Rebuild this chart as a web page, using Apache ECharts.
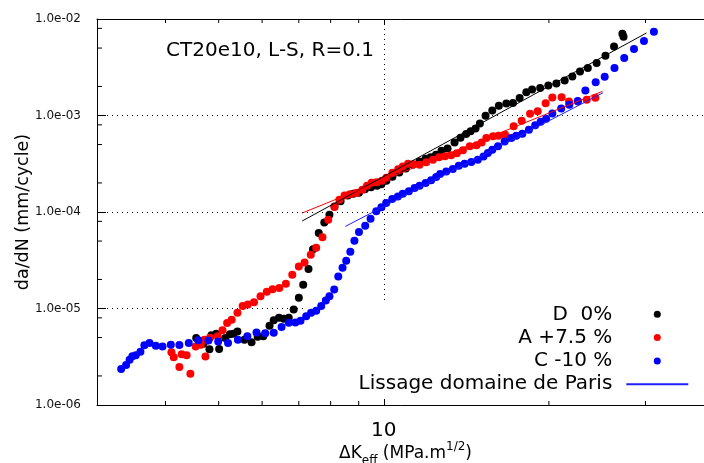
<!DOCTYPE html>
<html>
<head>
<meta charset="utf-8">
<script src="https://cdn.jsdelivr.net/npm/echarts@6/dist/echarts.min.js"></script>
<style>
html,body{margin:0;padding:0;background:#fff;}
#chart{width:704px;height:463px;}
</style>
</head>
<body>
<div id="chart"></div>
<script>
// ---- Data (ΔKeff in MPa.m^1/2, da/dN in mm/cycle) ----
const dK_D = [4.55,4.69,4.81,4.85,4.95,5.01,5.14,5.24,5.32,5.41,
  5.57,5.74,5.89,6.03,6.19,6.30,6.44,6.57,6.71,6.85,
  7.00,7.13,7.29,7.43,7.61,7.79,7.96,8.13,8.34,8.60,
  8.80,9.01,9.24,9.48,9.72,9.90,10.11,10.37,10.67,10.97,
  11.30,11.62,11.92,12.17,12.45,12.74,13.07,13.46,13.80,14.13,
  14.40,14.70,14.97,15.33,15.77,16.21,16.73,17.20,17.69,18.19,
  18.64,19.28,19.95,20.64,21.37,22.07,22.79,23.55,24.44,25.36,
  26.29,27.23,27.36];
const dadN_D = [4.95e-6,4.32e-6,3.79e-6,5.29e-6,5.48e-6,3.80e-6,4.95e-6,5.42e-6,5.48e-6,5.79e-6,
  4.75e-6,4.48e-6,5.10e-6,5.16e-6,6.64e-6,7.57e-6,8.03e-6,7.84e-6,8.03e-6,9.76e-6,
  1.29e-5,1.76e-5,2.57e-5,4.10e-5,6.06e-5,7.80e-5,9.38e-5,1.14e-4,1.29e-4,1.48e-4,
  1.55e-4,1.58e-4,1.72e-4,1.81e-4,1.87e-4,1.94e-4,2.11e-4,2.32e-4,2.57e-4,2.83e-4,
  3.09e-4,3.34e-4,3.57e-4,3.70e-4,3.93e-4,4.32e-4,4.55e-4,5.25e-4,5.89e-4,6.45e-4,
  6.88e-4,7.33e-4,8.28e-4,9.95e-4,1.13e-3,1.26e-3,1.33e-3,1.35e-3,1.52e-3,1.74e-3,
  1.86e-3,1.93e-3,2.04e-3,2.15e-3,2.31e-3,2.54e-3,2.86e-3,3.11e-3,3.50e-3,4.17e-3,
  5.20e-3,7.04e-3,6.56e-3];

const dK_A = [4.10,4.14,4.24,4.28,4.37,4.44,4.54,4.64,4.71,4.73,
  4.82,4.98,5.08,5.18,5.28,5.41,5.53,5.65,5.80,5.96,
  6.12,6.27,6.45,6.63,6.81,7.00,7.17,7.36,7.53,7.73,
  7.92,8.13,8.30,8.48,8.68,8.90,9.14,9.32,9.50,9.70,
  9.92,10.11,10.37,10.62,10.83,11.07,11.33,11.62,11.95,12.29,
  12.61,12.93,13.27,13.59,13.94,14.35,14.76,15.08,15.38,15.82,
  16.19,16.64,17.25,17.84,18.48,19.08,19.73,20.29,21.10,21.76,
  22.60,23.44,24.31];
const dadN_A = [3.53e-6,3.13e-6,2.48e-6,3.36e-6,3.28e-6,2.11e-6,4.05e-6,4.22e-6,4.75e-6,3.19e-6,
  4.98e-6,5.16e-6,5.96e-6,7.08e-6,7.65e-6,9.05e-6,1.06e-5,1.10e-5,1.16e-5,1.34e-5,
  1.49e-5,1.58e-5,1.63e-5,1.81e-5,2.24e-5,2.73e-5,3.00e-5,3.61e-5,4.27e-5,5.48e-5,
  8.32e-5,1.13e-4,1.34e-4,1.48e-4,1.53e-4,1.57e-4,1.70e-4,1.87e-4,2.01e-4,2.03e-4,
  2.11e-4,2.27e-4,2.55e-4,2.78e-4,2.97e-4,3.17e-4,3.13e-4,3.09e-4,3.28e-4,3.48e-4,
  3.70e-4,3.79e-4,3.88e-4,4.07e-4,4.37e-4,4.79e-4,4.92e-4,5.26e-4,5.85e-4,6.10e-4,
  6.18e-4,6.32e-4,7.75e-4,8.83e-4,1.04e-3,1.11e-3,1.34e-3,1.54e-3,1.55e-3,1.40e-3,
  1.40e-3,1.46e-3,1.53e-3];

const dK_C = [3.32,3.39,3.44,3.48,3.53,3.60,3.66,3.74,3.84,3.95,
  4.09,4.24,4.41,4.59,4.79,4.99,5.20,5.42,5.64,5.86,
  6.08,6.30,6.51,6.71,6.90,7.05,7.22,7.37,7.53,7.69,
  7.84,7.96,8.12,8.26,8.41,8.54,8.69,8.84,9.01,9.25,
  9.46,9.69,9.90,10.10,10.36,10.61,10.83,11.11,11.38,11.62,
  11.92,12.20,12.46,12.67,13.00,13.36,13.70,14.04,14.44,14.84,
  15.20,15.48,15.77,16.15,16.61,17.08,17.44,17.89,18.39,18.88,
  19.32,19.77,20.29,21.06,21.79,22.57,23.31,24.34,25.28,26.34,
  27.44,28.59,29.81,31.08];
const dadN_C = [2.36e-6,2.59e-6,2.95e-6,3.20e-6,3.28e-6,3.57e-6,4.17e-6,4.39e-6,4.12e-6,4.05e-6,
  4.22e-6,4.19e-6,4.39e-6,4.69e-6,4.67e-6,4.56e-6,4.39e-6,4.75e-6,5.16e-6,5.65e-6,
  5.55e-6,5.59e-6,6.43e-6,7.13e-6,7.18e-6,7.48e-6,8.32e-6,9.05e-6,9.49e-6,1.06e-5,
  1.21e-5,1.34e-5,1.57e-5,2.14e-5,2.65e-5,3.13e-5,3.88e-5,5.04e-5,6.21e-5,7.21e-5,
  8.52e-5,1.02e-4,1.12e-4,1.24e-4,1.36e-4,1.45e-4,1.55e-4,1.64e-4,1.77e-4,1.87e-4,
  2.00e-4,2.13e-4,2.31e-4,2.48e-4,2.63e-4,2.79e-4,3.02e-4,3.17e-4,3.30e-4,3.48e-4,
  3.77e-4,4.09e-4,4.42e-4,4.79e-4,5.39e-4,5.85e-4,6.18e-4,6.48e-4,7.13e-4,7.93e-4,
  8.63e-4,9.26e-4,1.05e-3,1.18e-3,1.29e-3,1.41e-3,1.82e-3,2.21e-3,2.52e-3,3.11e-3,
  3.94e-3,4.89e-3,5.92e-3,7.39e-3];

// Paris-regime fits (end points)
const fitK_D = [7.10, 30.12];
const fitV_D = [8.07e-5, 7.16e-3];
const fitK_A = [7.10, 25.04];
const fitV_A = [9.76e-5, 1.78e-3];
const fitK_C = [8.51, 25.10];
const fitV_C = [7.09e-5, 1.72e-3];

// Axes
const xMin = 3, xMax = 40;
const yMin = 1e-6, yMax = 1e-2;
const xMinorTicks = [4,5,6,7,8,9,20,30];
const yMinorTicks = [2e-6,5e-6,8e-6,2e-5,5e-5,8e-5,2e-4,5e-4,8e-4,2e-3,5e-3,8e-3];

const seriesNames = ['D  0%', 'A +7.5 %', 'C -10 %', 'Lissage domaine de Paris'];
const titleText = 'CT20e10, L-S, R=0.1';

// ---- Chart ----
const FONT = 'DejaVu Sans';
const zip = (a, b) => a.map((v, i) => [v, b[i]]);
const chart = echarts.init(document.getElementById('chart'), null, {renderer: 'canvas'});

const dotted = {color: '#000', width: 1, type: [1, 4]};

const option = {
  animation: false,
  backgroundColor: '#fff',
  textStyle: {fontFamily: FONT},
  title: {
    text: titleText, left: 166, top: 41, padding: 0,
    textStyle: {fontFamily: FONT, fontSize: 20, fontWeight: 'normal', color: '#000'}
  },
  grid: {left: 97, top: 19, width: 617, height: 386, show: false,
    containLabel: false, outerBoundsMode: 'none'},
  legend: {
    orient: 'vertical', right: 14.7, top: 302.8, padding: 0,
    itemGap: 0.3, itemWidth: 62, itemHeight: 7, align: 'right',
    selectedMode: false,
    data: [
      seriesNames[0], seriesNames[1], seriesNames[2],
      {name: seriesNames[3], itemStyle: {color: 'rgba(0,0,0,0)', borderWidth: 0}}
    ],
    textStyle: {fontFamily: FONT, fontSize: 20, color: '#000', lineHeight: 23, padding: [0, 9, 0, 0]}
  },
  graphic: [{
    type: 'rect', left: 305, top: 302, z: 1, silent: true,
    shape: {width: 400, height: 93}, style: {fill: '#fff'}
  }],
  xAxis: [{
    type: 'log', logBase: 10, min: xMin, max: xMax, position: 'bottom',
    axisLine: {show: true, lineStyle: {color: '#000', width: 1}},
    axisTick: {show: true, inside: true, length: 6, lineStyle: {color: '#000', width: 1}},
    axisLabel: {
      show: true, fontFamily: FONT, fontSize: 20, color: '#000', margin: 16,
      showMinLabel: false, showMaxLabel: false,
      formatter: v => (Math.abs(v - 10) < 1e-6 ? '10' : '')
    },
    splitLine: {show: true, lineStyle: dotted},
    name: '{a|ΔK}{sub|eff}{a| (MPa.m}{sup|1/2}{a|)}',
    nameLocation: 'middle', nameGap: 36, nameMoveOverlap: false,
    nameTextStyle: {
      fontFamily: FONT, fontSize: 17, color: '#000',
      rich: {
        a: {fontFamily: FONT, fontSize: 17, color: '#000', lineHeight: 26},
        sub: {fontFamily: FONT, fontSize: 12, color: '#000', verticalAlign: 'bottom', lineHeight: 14},
        sup: {fontFamily: FONT, fontSize: 12, color: '#000', verticalAlign: 'top', lineHeight: 17}
      }
    }
  }, {
    type: 'log', logBase: 10, min: xMin, max: xMax, position: 'top',
    axisLine: {show: true, lineStyle: {color: '#000', width: 1}},
    axisTick: {show: true, inside: true, length: 6, lineStyle: {color: '#000', width: 1}},
    axisLabel: {show: false},
    splitLine: {show: false}
  }],
  yAxis: {
    type: 'log', logBase: 10, min: yMin, max: yMax,
    axisLine: {show: true, lineStyle: {color: '#000', width: 1}},
    axisTick: {show: true, inside: true, length: 9, lineStyle: {color: '#000', width: 1}},
    axisLabel: {
      fontFamily: FONT, fontSize: 12, color: '#111', margin: 16,
      formatter: v => {
        const e = Math.round(Math.log10(v));
        return '1.0e' + (e < 0 ? '-' : '+') + String(Math.abs(e)).padStart(2, '0');
      }
    },
    splitLine: {show: true, lineStyle: dotted},
    name: 'da/dN (mm/cycle)', nameLocation: 'middle', nameGap: 65, nameMoveOverlap: false,
    nameTextStyle: {fontFamily: FONT, fontSize: 17.5, color: '#000'}
  },
  series: [
    {
      name: seriesNames[0], type: 'scatter', symbol: 'circle', symbolSize: 8,
      itemStyle: {color: '#000', opacity: 1}, data: zip(dK_D, dadN_D), z: 2
    },
    {
      name: seriesNames[1], type: 'scatter', symbol: 'circle', symbolSize: 8,
      itemStyle: {color: '#ff0000', opacity: 1}, data: zip(dK_A, dadN_A), z: 2
    },
    {
      name: seriesNames[2], type: 'scatter', symbol: 'circle', symbolSize: 8,
      itemStyle: {color: '#0000ff', opacity: 1}, data: zip(dK_C, dadN_C), z: 2
    },
    {
      name: 'fit D', type: 'line', symbol: 'none', z: 3,
      lineStyle: {color: '#000', width: 1}, data: zip(fitK_D, fitV_D)
    },
    {
      name: 'fit A', type: 'line', symbol: 'none', z: 3,
      lineStyle: {color: '#ff0000', width: 1}, data: zip(fitK_A, fitV_A)
    },
    {
      name: seriesNames[3], type: 'line', symbol: 'none', z: 3,
      itemStyle: {color: '#2020ff'},
      lineStyle: {color: '#2020ff', width: 1}, data: zip(fitK_C, fitV_C)
    },
    {
      name: 'xminor', type: 'custom', silent: true, clip: false, z: 4,
      data: xMinorTicks.map(v => [v, yMin]),
      renderItem: (params, api) => {
        const v = api.value(0);
        const pb = api.coord([v, yMin]);
        const pt = api.coord([v, yMax]);
        const st = {stroke: '#000', lineWidth: 1};
        return {type: 'group', children: [
          {type: 'line', shape: {x1: pb[0], y1: pb[1], x2: pb[0], y2: pb[1] - 4}, style: st},
          {type: 'line', shape: {x1: pt[0], y1: pt[1], x2: pt[0], y2: pt[1] + 4}, style: st}
        ]};
      }
    },
    {
      name: 'yminor', type: 'custom', silent: true, clip: false, z: 4,
      data: yMinorTicks.map(v => [xMin, v]),
      renderItem: (params, api) => {
        const p = api.coord([xMin, api.value(1)]);
        return {type: 'line', shape: {x1: p[0], y1: p[1], x2: p[0] + 5, y2: p[1]},
          style: {stroke: '#000', lineWidth: 1}};
      }
    }
  ]
};
chart.setOption(option);
</script>
</body>
</html>
